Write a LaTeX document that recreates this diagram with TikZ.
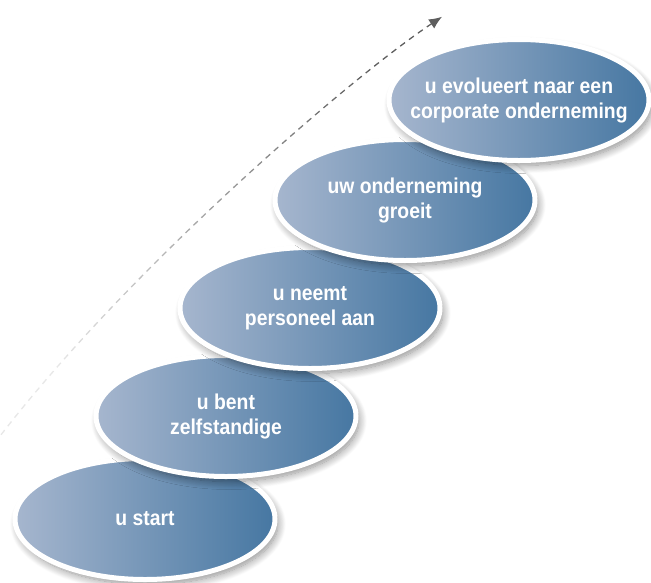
\documentclass[tikz,border=0pt]{standalone}
\usepackage{fontspec}
\newfontfamily\stepfont{Liberation Sans}[FakeStretch=0.9]
\usetikzlibrary{shapes.geometric,shadows.blur,fadings,arrows.meta}
\definecolor{stepleft}{HTML}{A6B6CE}
\definecolor{stepright}{HTML}{4677A2}
\definecolor{risegray}{HTML}{5E5E5E}
\tikzfading[name=risefade,left color=transparent!85,right color=transparent!0]
\tikzset{
	stepoval/.style={ellipse,draw=white,line width=5pt,minimum width=260pt,minimum height=121pt,inner sep=0pt,
		left color=stepleft,right color=stepright,
		blur shadow={shadow xshift=3pt,shadow yshift=-5pt,shadow opacity=45,shadow blur radius=8pt,shadow blur steps=14}},
	steptext/.style={text=white,font=\stepfont\bfseries\fontsize{21.5}{25}\selectfont,align=center}
}
\begin{document}
\begin{tikzpicture}[x=1pt,y=-1pt]
	\useasboundingbox (0,0) rectangle (651,582);
	% groeipijl
	\coordinate (rise start) at (0,433);
	\coordinate (rise end) at (443,13);
	\draw[risegray,line width=1.3pt,dash pattern=on 6pt off 5pt,-{Latex[length=13pt,width=11pt]},
		path fading=risefade,fading angle=45] (rise start) .. controls (130,265) and (350,75) .. (rise end);
	% stappen
	\node[stepoval] (start) at (145,519) {};
	\node[steptext] at (start) {u start};
	\node[stepoval] (zelf) at (226,416) {};
	\node[steptext] at (zelf) {u bent\\zelfstandige};
	\node[stepoval] (personeel) at (310,308) {};
	\node[steptext] at (personeel) {u neemt\\personeel aan};
	\node[stepoval] (groei) at (405,200) {};
	\node[steptext] at (groei) {uw onderneming\\groeit};
	\node[stepoval] (corporate) at (519,100) {};
	\node[steptext] at (corporate) {u evolueert naar een\\corporate onderneming};
\end{tikzpicture}
\end{document}
